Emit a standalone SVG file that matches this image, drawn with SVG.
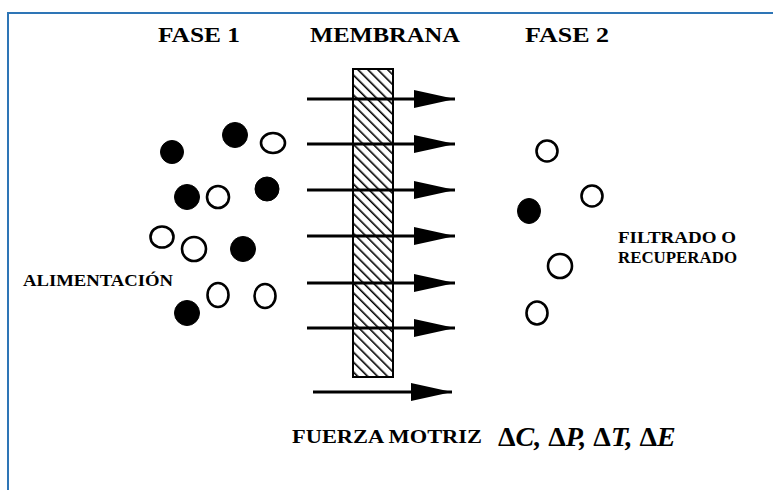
<svg xmlns="http://www.w3.org/2000/svg" width="773" height="490" viewBox="0 0 773 490">
<style>
.lbl{font-family:"Liberation Serif","Times New Roman",serif;font-weight:bold;fill:#000}
.open{fill:#fff;stroke:#000;stroke-width:2.6}
.full{fill:#000;stroke:#000;stroke-width:1}
.arr{stroke:#000;stroke-width:3;fill:none}
.math{font-family:"Liberation Serif","DejaVu Serif",serif;font-weight:bold;font-style:italic;fill:#000}
</style>
<defs>
<pattern id="hatch" patternUnits="userSpaceOnUse" width="7" height="7" patternTransform="rotate(-45)">
<rect width="7" height="7" fill="#fff"/>
<line x1="0" y1="0" x2="0" y2="7" stroke="#000" stroke-width="3.2"/>
</pattern>
<marker id="ah" markerUnits="userSpaceOnUse" markerWidth="44" markerHeight="22" refX="41" refY="10" orient="auto">
<polygon points="0,1 41,10 0,19" fill="#000"/>
</marker>
</defs>
<rect x="0" y="0" width="773" height="490" fill="#fff"/>
<rect x="8" y="13" width="800" height="520" fill="none" stroke="#2E75B6" stroke-width="2"/>

<g id="titles">
<text class="lbl" x="158" y="42" font-size="21" textLength="82" lengthAdjust="spacingAndGlyphs">FASE 1</text>
<text class="lbl" x="310" y="42" font-size="21" textLength="150" lengthAdjust="spacingAndGlyphs">MEMBRANA</text>
<text class="lbl" x="525" y="42" font-size="21" textLength="84" lengthAdjust="spacingAndGlyphs">FASE 2</text>
</g>

<g id="membrana">
<rect x="353" y="69" width="40" height="308" fill="url(#hatch)" stroke="#000" stroke-width="2"/>
</g>

<g id="connectors">
<line class="arr" x1="307" y1="99" x2="455" y2="99" marker-end="url(#ah)"/>
<line class="arr" x1="307" y1="144" x2="455" y2="144" marker-end="url(#ah)"/>
<line class="arr" x1="307" y1="190" x2="455" y2="190" marker-end="url(#ah)"/>
<line class="arr" x1="307" y1="236" x2="455" y2="236" marker-end="url(#ah)"/>
<line class="arr" x1="307" y1="283" x2="455" y2="283" marker-end="url(#ah)"/>
<line class="arr" x1="307" y1="328" x2="455" y2="328" marker-end="url(#ah)"/>
<line class="arr" x1="313" y1="392" x2="452" y2="392" marker-end="url(#ah)"/>
</g>

<g id="fase1">
<circle class="full" cx="172" cy="152" r="11.5"/>
<circle class="full" cx="235" cy="135" r="12.5"/>
<ellipse class="open" cx="273" cy="143" rx="12" ry="10"/>
<circle class="full" cx="187" cy="197" r="12.5"/>
<ellipse class="open" cx="218" cy="197" rx="11" ry="11"/>
<circle class="full" cx="267" cy="189" r="12"/>
<ellipse class="open" cx="162" cy="237" rx="11.5" ry="10.5"/>
<circle class="open" cx="194" cy="249" r="12"/>
<circle class="full" cx="243" cy="249" r="12.5"/>
<ellipse class="open" cx="218" cy="295" rx="10.5" ry="12"/>
<ellipse class="open" cx="265" cy="296" rx="10.5" ry="12"/>
<circle class="full" cx="187" cy="313" r="12.5"/>
</g>

<g id="fase2">
<circle class="open" cx="547" cy="151" r="10.5"/>
<circle class="open" cx="592" cy="196" r="10.5"/>
<ellipse class="full" cx="529" cy="211" rx="11.5" ry="12.5"/>
<circle class="open" cx="560" cy="266" r="12"/>
<ellipse class="open" cx="537" cy="313" rx="10.5" ry="11.5"/>
</g>

<g id="alimentacion">
<text class="lbl" x="23" y="286" font-size="16" textLength="150" lengthAdjust="spacingAndGlyphs">ALIMENTACIÓN</text>
</g>

<g id="filtrado">
<text class="lbl" x="618" y="243" font-size="17" textLength="118" lengthAdjust="spacingAndGlyphs">FILTRADO O</text>
<text class="lbl" x="618" y="263" font-size="17" textLength="119" lengthAdjust="spacingAndGlyphs">RECUPERADO</text>
</g>

<g id="fuerza">
<text class="lbl" x="292" y="443" font-size="19" textLength="190" lengthAdjust="spacingAndGlyphs">FUERZA MOTRIZ</text>
<text class="math" x="498" y="446" font-size="28"><tspan font-style="normal">Δ</tspan>C, <tspan font-style="normal">Δ</tspan>P, <tspan font-style="normal">Δ</tspan>T, <tspan font-style="normal">Δ</tspan>E</text>
</g>
</svg>
